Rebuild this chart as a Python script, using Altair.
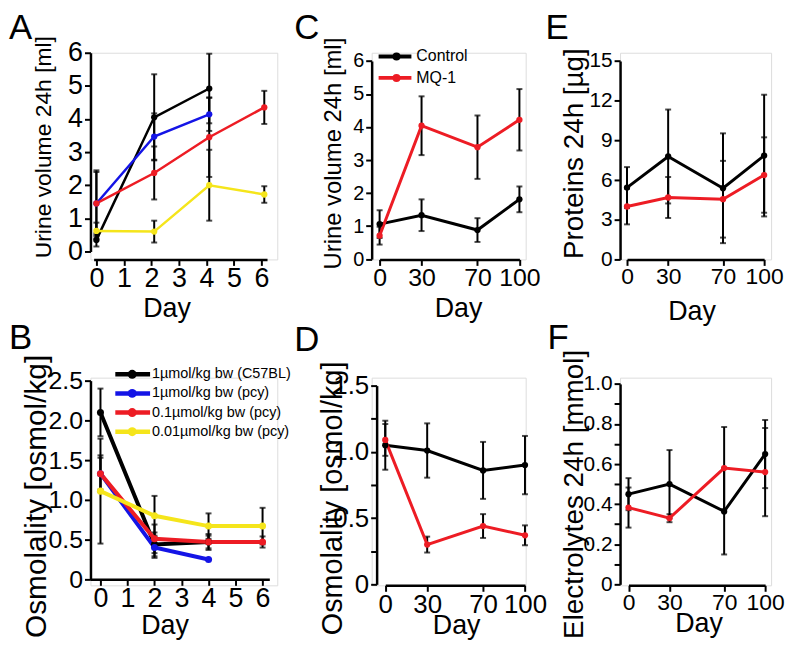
import altair as alt
import pandas as pd

SANS = "Liberation Sans"

# ---------------- Panel A: urine volume, dose groups ----------------
A_days = [0, 2.1, 4.1, 6.1]
A_c57_mean = [0.35, 4.05, 4.92, None]
A_c57_err = [0.20, 1.30, 1.05, None]
A_pcy1_mean = [1.45, 3.47, 4.14, None]
A_pcy1_err = [0.95, 0.70, 0.50, None]
A_pcy01_mean = [1.45, 2.37, 3.45, 4.35]
A_pcy01_err = [1.00, 0.80, 1.20, 0.50]
A_pcy001_mean = [0.62, 0.60, 2.00, 1.72]
A_pcy001_err = [0.25, 0.33, 1.07, 0.25]

# ---------------- Panel B: osmolality, dose groups ----------------
B_days = [0, 2, 4, 6]
B_c57_mean = [2.10, 0.44, 0.47, None]
B_c57_err = [0.30, 0.15, 0.10, None]
B_pcy1_mean = [1.33, 0.40, 0.25, None]
B_pcy1_err = [0.20, 0.13, 0.0, None]
B_pcy01_mean = [1.33, 0.51, 0.47, 0.47]
B_pcy01_err = [0.23, 0.18, 0.08, 0.07]
B_pcy001_mean = [1.11, 0.80, 0.67, 0.67]
B_pcy001_err = [0.66, 0.25, 0.16, 0.23]

DOSE_NAMES = ["1µmol/kg bw  (C57BL)", "1µmol/kg bw (pcy)",
              "0.1µmol/kg bw (pcy)", "0.01µmol/kg bw (pcy)"]
DOSE_COLORS = ["#000000", "#1414e6", "#ed1c24", "#f5e51b"]

# ---------------- Panels C-F: Control vs MQ-1 ----------------
CF_days = [0, 30, 70, 100]
GROUP_NAMES = ["Control", "MQ-1"]
GROUP_COLORS = ["#000000", "#ed1c24"]

C_ctrl_mean = [1.06, 1.33, 0.88, 1.81]
C_ctrl_err = [0.42, 0.48, 0.36, 0.39]
C_mq_mean = [0.71, 4.04, 3.39, 4.22]
C_mq_err = [0.27, 0.89, 0.96, 0.93]

D_ctrl_mean = [1.05, 1.01, 0.86, 0.90]
D_ctrl_err = [0.185, 0.205, 0.215, 0.22]
D_mq_mean = [1.09, 0.30, 0.44, 0.37]
D_mq_err = [0.12, 0.06, 0.09, 0.075]

E_ctrl_mean = [5.43, 7.78, 5.38, 7.85]
E_ctrl_err = [1.55, 3.55, 4.15, 4.60]
E_mq_mean = [4.00, 4.68, 4.55, 6.38]
E_mq_err = [1.35, 1.55, 2.90, 2.85]

F_ctrl_mean = [0.45, 0.50, 0.364, 0.65]
F_ctrl_err = [0.08, 0.17, 0.215, 0.17]
F_mq_mean = [0.383, 0.33, 0.58, 0.56]
F_mq_err = [0.10, 0.02, 0.205, 0.22]

AB_xticks = [0, 1, 2, 3, 4, 5, 6]
CF_xticks = [0, 30, 70, 100]
A_yticks = [0, 1, 2, 3, 4, 5, 6]
B_yticks = [0, 0.5, 1.0, 1.5, 2.0, 2.5]
C_yticks = [0, 1, 2, 3, 4, 5, 6]
D_yticks = [0, 0.25, 0.5, 0.75, 1.0, 1.25, 1.5]
E_yticks = [0, 3, 6, 9, 12, 15]
F_yticks = [0, 0.1, 0.2, 0.3, 0.4, 0.5, 0.6, 0.7, 0.8, 0.9, 1.0]


def build(days, names, means, errs):
    rows = []
    for name, m, e in zip(names, means, errs):
        for d, mv, ev in zip(days, m, e):
            if mv is None:
                continue
            rows.append(dict(day=d, series=name, mean=mv, lo=mv - ev, hi=mv + ev))
    return pd.DataFrame(rows)


def make_panel(df, names, colors, letter, width, height,
               xdom, xrng, xvals, xlab, xoff, xtx, xty,
               ydom, yrng, yvals, ylabexpr, ylab, yoff, ytitle, ytsize, ytx, yty,
               lx, ly, line_w, pt_size, legend=None):
    xs = alt.Scale(domain=xdom, range=xrng, nice=False, zero=False)
    ys = alt.Scale(domain=ydom, range=yrng, nice=False, zero=False)
    common = dict(grid=False, domainColor="black", domainWidth=2.5,
                  tickColor="black", tickWidth=2, tickSize=6,
                  labelColor="black", labelFlush=False, labelOverlap=False,
                  labelBound=False, titleColor="black", titleFontWeight="normal",
                  titleAlign="center", titleBaseline="alphabetic")
    xax = alt.Axis(values=xvals, format="d", title="Day", labelFont=SANS,
                   labelFontSize=xlab, labelPadding=0, titleFont=SANS,
                   titleFontSize=27, titleX=xtx, titleY=xty, offset=xoff, **common)
    yax = alt.Axis(values=yvals, labelExpr=ylabexpr, title=ytitle, labelFont=SANS,
                   labelFontSize=ylab, labelPadding=2, titleFont=SANS,
                   titleFontSize=ytsize, titleAngle=270, titleX=ytx, titleY=yty,
                   offset=yoff, **common)

    def X():
        return alt.X("day:Q", scale=xs, axis=xax)

    def Y(f):
        return alt.Y(f + ":Q", scale=ys, axis=yax)

    col = alt.Color("series:N", scale=alt.Scale(domain=names, range=colors), legend=None)
    base = alt.Chart(df)
    bars = base.mark_rule(color="black", strokeWidth=2).encode(x=X(), y=Y("lo"), y2="hi:Q")
    cap_lo = base.mark_tick(orient="horizontal", color="black", thickness=2, size=6).encode(x=X(), y=Y("lo"))
    cap_hi = base.mark_tick(orient="horizontal", color="black", thickness=2, size=6).encode(x=X(), y=Y("hi"))
    lines = base.mark_line(strokeWidth=line_w).encode(x=X(), y=Y("mean"), color=col)
    pts = base.mark_circle(size=pt_size, opacity=1).encode(x=X(), y=Y("mean"), color=col)
    main = alt.layer(bars, cap_lo, cap_hi, lines, pts)

    let = alt.Chart(pd.DataFrame({"t": [letter]})).mark_text(
        align="left", baseline="alphabetic", font=SANS, fontSize=35, color="black"
    ).encode(x=alt.value(lx), y=alt.value(ly), text="t:N")

    if legend is None:
        ch = alt.layer(main, let)
    else:
        ldf = pd.DataFrame({"series": names})
        # point scale keeps half a step of outer padding: widen the range so the
        # first and last entries land on the wanted rows
        n = len(names)
        step = (legend["yr"][1] - legend["yr"][0]) / (n - 1)
        rng = [legend["yr"][0] - step / 2, legend["yr"][1] + step / 2]
        lyenc = alt.Y("series:N", sort=names,
                      scale=alt.Scale(domain=names, range=rng, padding=0.5), axis=None)
        lrule = alt.Chart(ldf).mark_rule(strokeWidth=legend["lw"]).encode(
            x=alt.value(legend["x0"]), x2=alt.value(legend["x1"]), y=lyenc, color=col)
        lpt = alt.Chart(ldf).mark_circle(size=legend["ps"], opacity=1).encode(
            x=alt.value(legend["xd"]), y=lyenc, color=col)
        ltxt = alt.Chart(ldf).mark_text(align="left", baseline="middle", font=SANS,
                                        fontSize=legend["fs"], color="black").encode(
            x=alt.value(legend["xt"]), y=lyenc, text="series:N")
        leg = alt.layer(lrule, lpt, ltxt)
        ch = alt.layer(main, leg, let).resolve_scale(y="independent")
    return ch.properties(width=width, height=height)


lab_plain = "datum.label"
lab_half = "datum.value == 0 ? '0' : format(datum.value, '.1f')"
lab_d = "datum.value == 0 ? '0' : (round(datum.value * 4) % 2 == 0 ? format(datum.value, '.1f') : '')"
lab_f = "datum.value == 0 ? '0' : (round(datum.value * 10) % 2 == 0 ? format(datum.value, '.1f') : '')"

dfA = build(A_days, DOSE_NAMES, [A_c57_mean, A_pcy1_mean, A_pcy01_mean, A_pcy001_mean],
            [A_c57_err, A_pcy1_err, A_pcy01_err, A_pcy001_err])
dfB = build(B_days, DOSE_NAMES, [B_c57_mean, B_pcy1_mean, B_pcy01_mean, B_pcy001_mean],
            [B_c57_err, B_pcy1_err, B_pcy01_err, B_pcy001_err])
dfC = build(CF_days, GROUP_NAMES, [C_ctrl_mean, C_mq_mean], [C_ctrl_err, C_mq_err])
dfD = build(CF_days, GROUP_NAMES, [D_ctrl_mean, D_mq_mean], [D_ctrl_err, D_mq_err])
dfE = build(CF_days, GROUP_NAMES, [E_ctrl_mean, E_mq_mean], [E_ctrl_err, E_mq_err])
dfF = build(CF_days, GROUP_NAMES, [F_ctrl_mean, F_mq_mean], [F_ctrl_err, F_mq_err])

pA = make_panel(dfA, DOSE_NAMES, DOSE_COLORS, "A", 188, 208,
                [-0.1, 6.2], [3.2, 177.7], AB_xticks, 27, 0, 76.5, 57,
                [0, 6], [200, 0], A_yticks, lab_plain, 27, 0,
                "Urine volume 24h [ml]", 23, -40, 94.5, -82, -14, 2.5, 40)
pB = make_panel(dfB, DOSE_NAMES, DOSE_COLORS, "B", 188, 209,
                [-0.37, 6.25], [0, 180], AB_xticks, 27, -6, 74.5, 54,
                [0, 2.5], [203, 3], B_yticks, lab_half, 25, 0,
                "Osmolality [osmol/kg]", 30, -45, 119, -82, -29, 4, 50,
                legend=dict(yr=[-7, 58], x0=25, x1=60, xd=42, xt=62, lw=4.5, ps=80, fs=14.5))
pC = make_panel(dfC, GROUP_NAMES, GROUP_COLORS, "C", 155, 208,
                [0, 100], [8, 148.7], CF_xticks, 25, 0, 87, 57,
                [0, 6], [207.7, 8.3], C_yticks, lab_plain, 20, 0,
                "Urine volume 24h [ml]", 24, -31, 101, -78, -14, 3, 40,
                legend=dict(yr=[1, 28], x0=7, x1=40, xd=25, xt=45, lw=4, ps=65, fs=16))
pD = make_panel(dfD, GROUP_NAMES, GROUP_COLORS, "D", 155, 209,
                [0, 100], [13.7, 154.3], CF_xticks, 26, 0, 85, 48,
                [0, 1.5], [208, 8], D_yticks, lab_d, 26, -5,
                "Osmolality [osmol/kg]", 29, -35, 121, -78, -27, 3, 40)
pE = make_panel(dfE, GROUP_NAMES, GROUP_COLORS, "E", 152, 208,
                [0, 100], [7, 145], CF_xticks, 23, 0, 72, 60,
                [0, 15], [208, 8.3], E_yticks, lab_plain, 21, 0,
                "Proteins 24h [µg]", 28, -38, 101, -75, -14, 3, 40)
pF = make_panel(dfF, GROUP_NAMES, GROUP_COLORS, "F", 152, 209,
                [0, 100], [8.5, 146], CF_xticks, 23, 0, 79, 46,
                [0, 1], [208, 6.3], F_yticks, lab_f, 21, 0,
                "Electrolytes 24h [mmol]", 28, -38, 117, -73, -29, 3, 40)

chart = alt.concat(pA, pC, pE, pB, pD, pF, columns=3,
                   spacing={"row": 119, "column": 95}, bounds="flush").resolve_scale(
    color="independent"
).properties(padding=0).configure_view(stroke=None).configure(background="white")

chart.save("out.html", embed_options={"renderer": "svg", "actions": False})
